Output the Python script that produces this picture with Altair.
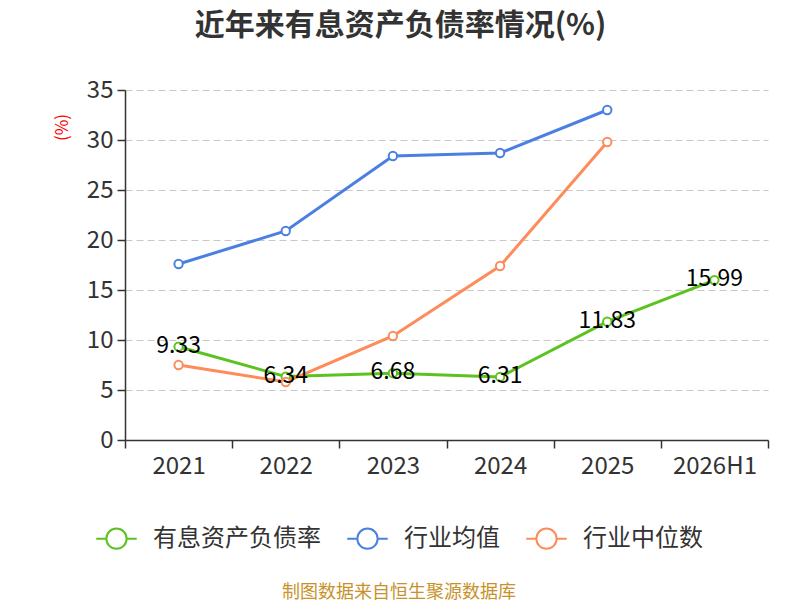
import altair as alt
import pandas as pd

years = ["2021", "2022", "2023", "2024", "2025", "2026H1"]
debt_ratio = [9.33, 6.34, 6.68, 6.31, 11.83, 15.99]
industry_mean = [17.6, 20.9, 28.4, 28.7, 33.0, None]
industry_median = [7.5, 5.8, 10.4, 17.4, 29.8, None]

series_names = ["有息资产负债率", "行业均值", "行业中位数"]
series_colors = ["#5cc21f", "#4b80e2", "#fe8c5a"]

rows = []
for name, vals in zip(series_names, [debt_ratio, industry_mean, industry_median]):
    for y, v in zip(years, vals):
        if v is not None:
            rows.append({"year": y, "value": v, "series": name})
df = pd.DataFrame(rows)
label_df = pd.DataFrame({"year": years, "value": debt_ratio,
                         "label": [f"{v:.2f}" for v in debt_ratio]})

FONT = "Noto Sans CJK SC"
sym = ("M-1,0L-0.5,0M0.5,0L1,0M0.5,0A0.5,0.5,0,1,1,-0.5,0"
       "A0.5,0.5,0,1,1,0.5,0Z")

x_enc = alt.X("year:N", sort=years, title=None,
              scale=alt.Scale(paddingInner=0, paddingOuter=0),
              axis=alt.Axis(labelAngle=0, labelFontSize=24, labelColor="#333",
                            labelFont=FONT, domainColor="#333", domainWidth=1.5,
                            tickColor="#333", tickWidth=1.5, tickSize=8,
                            tickBand="extent", labelPadding=6, grid=False))
y_enc = alt.Y("value:Q", title="(%)",
              scale=alt.Scale(domain=[0, 35], nice=False),
              axis=alt.Axis(values=[0, 5, 10, 15, 20, 25, 30, 35],
                            labelFontSize=24, labelColor="#333", labelFont=FONT,
                            domainColor="#333", domainWidth=1.5,
                            tickColor="#333", tickWidth=1.5, tickSize=8,
                            labelPadding=4,
                            grid=True, gridColor="#c8c8c8", gridDash=[7, 4],
                            gridWidth=1.2,
                            titleColor="red", titleFont=FONT, titleFontSize=17,
                            titleFontWeight="normal", titleX=-63, titleY=37,
                            titleAngle=-90, titleAlign="center",
                            titleBaseline="middle"))

color_enc = alt.Color("series:N", sort=series_names,
                      scale=alt.Scale(domain=series_names, range=series_colors),
                      legend=alt.Legend(
                          orient="none", legendX=-30, legendY=427,
                          direction="horizontal",
                          title="制图数据来自恒生聚源数据库",
                          titleOrient="bottom", titleAnchor="middle",
                          titleColor="#c8922a", titleFontSize=18,
                          titleFontWeight="normal", titleFont=FONT,
                          titlePadding=31, titleLimit=500,
                          labelFontSize=24, labelColor="#333", labelFont=FONT,
                          symbolType=sym, symbolSize=1640,
                          symbolStrokeWidth=2, symbolFillColor="white",
                          columnPadding=22, labelOffset=15,
                          labelLimit=300))

lines = alt.Chart(df).mark_line(strokeWidth=3).encode(
    x=x_enc, y=y_enc, color=color_enc)

points = alt.Chart(df).mark_point(
    filled=False, fill="white", fillOpacity=1, opacity=1,
    size=70, strokeWidth=2
).encode(x=alt.X("year:N", sort=years), y="value:Q", color=color_enc)

labels = alt.Chart(label_df).mark_text(
    fontSize=23, color="black", font=FONT, baseline="middle", dy=-1
).encode(x=alt.X("year:N", sort=years), y="value:Q", text="label:N")

chart = alt.layer(lines, points, labels).properties(
    width=643, height=350,
    autosize=alt.AutoSizeParams(type="none"),
    padding={"left": 117, "top": 82, "right": 24, "bottom": 160},
    title=alt.TitleParams("近年来有息资产负债率情况(%)", fontSize=30,
                          fontWeight="bold", color="#333", font=FONT,
                          anchor="middle", dx=-46, offset=37),
).configure_view(stroke=None)

chart.save("out.html", embed_options={"renderer": "svg", "actions": False})
